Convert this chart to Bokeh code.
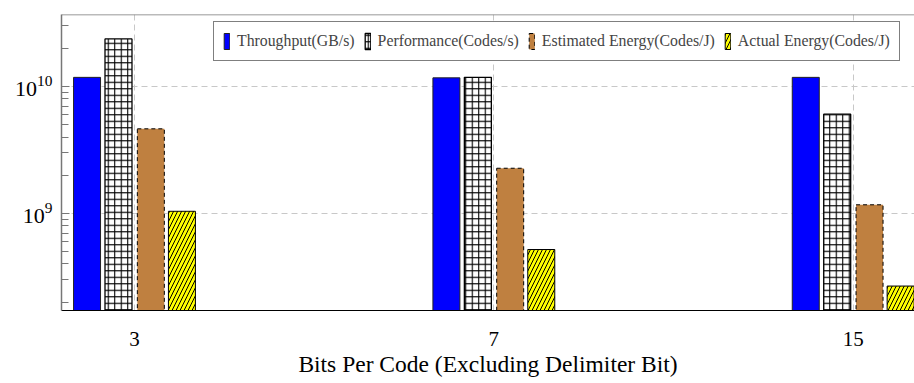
from bokeh.plotting import figure
from bokeh.models import (Range1d, FixedTicker, ColumnDataSource, Legend, LegendItem, Span)
from bokeh.transform import dodge
from bokeh.embed import file_html
from bokeh.resources import INLINE

# ---- data ----
categories = ["3", "7", "15"]
throughput = [1.18e10, 1.17e10, 1.18e10]
performance = [2.37e10, 1.18e10, 6.05e9]
est_energy = [4.64e9, 2.27e9, 1.17e9]
act_energy = [1.04e9, 5.2e8, 2.68e8]
series_names = ["Throughput(GB/s)", "Performance(Codes/s)",
                "Estimated Energy(Codes/J)", "Actual Energy(Codes/J)"]
y_major_ticks = [1e9, 1e10]
y_minor_ticks = [2e8, 3e8, 4e8, 5e8, 6e8, 7e8, 8e8, 9e8,
                 2e9, 3e9, 4e9, 5e9, 6e9, 7e9, 8e9, 9e9,
                 2e10, 3e10]
x_label = "Bits Per Code (Excluding Delimiter Bit)"

Y_MIN, Y_MAX = 1.72e8, 3.69e10
SERIF = "Liberation Serif"

xs = list(range(len(categories)))
src = ColumnDataSource(dict(x=xs, thr=throughput, perf=performance,
                            est=est_energy, act=act_energy))

p = figure(width=914, height=383,
           x_range=Range1d(-0.2031, 2.1706),
           y_range=Range1d(Y_MIN, Y_MAX),
           y_axis_type="log",
           output_backend="svg", toolbar_location=None,
           min_border_left=61, min_border_right=0,
           min_border_top=14, min_border_bottom=73)
p.outline_line_color = None

W = 0.0751
r1 = p.vbar(x=dodge("x", -0.132, range=p.x_range), top="thr", bottom=1e7, width=W,
            source=src, fill_color="#0000ff", line_color="#222222", line_width=1)
r2 = p.vbar(x=dodge("x", -0.0445, range=p.x_range), top="perf", bottom=1e7, width=W,
            source=src, fill_color="white", hatch_pattern="cross", hatch_color="black",
            hatch_scale=6.5, hatch_weight=1.1, line_color="black", line_width=1.3)
r3 = p.vbar(x=dodge("x", 0.0455, range=p.x_range), top="est", bottom=1e7, width=W,
            source=src, fill_color="#bf8040", line_color="black", line_dash="4 3",
            line_width=1)
r4 = p.vbar(x=dodge("x", 0.132, range=p.x_range), top="act", bottom=1e7, width=W,
            source=src, fill_color="#ffff00", hatch_pattern="right_diagonal_line",
            hatch_color="black", hatch_scale=8, hatch_weight=1.0,
            line_color="black", line_width=1)

# top frame line
p.add_layout(Span(location=Y_MAX, dimension="width", line_color="#777777", line_width=1.5))

# axes
yt = FixedTicker(ticks=y_major_ticks, minor_ticks=y_minor_ticks)
p.yaxis.ticker = yt
p.ygrid.ticker = yt
p.yaxis.major_tick_in = 8
p.yaxis.major_tick_out = 0
p.yaxis.minor_tick_in = 7
p.yaxis.minor_tick_out = 0
p.yaxis.axis_line_color = "#777777"
p.yaxis.axis_line_width = 1.5
p.yaxis.major_tick_line_color = "#777777"
p.yaxis.minor_tick_line_color = "#777777"
p.yaxis.major_label_text_font = SERIF
p.yaxis.major_label_text_font_size = "22px"
p.yaxis.major_label_text_color = "black"
p.yaxis.major_label_standoff = 9

xt = FixedTicker(ticks=xs)
p.xaxis.ticker = xt
p.xgrid.ticker = xt
p.xaxis.major_label_overrides = {i: c for i, c in zip(xs, categories)}
p.xaxis.major_tick_in = 0
p.xaxis.major_tick_out = 0
p.xaxis.minor_tick_line_color = None
p.xaxis.axis_line_color = "black"
p.xaxis.axis_line_width = 1.2
p.xaxis.major_label_text_font = SERIF
p.xaxis.major_label_text_font_size = "21px"
p.xaxis.major_label_text_color = "black"
p.xaxis.major_label_standoff = 21
p.xaxis.axis_label = x_label
p.xaxis.axis_label_text_font = SERIF
p.xaxis.axis_label_text_font_size = "23.5px"
p.xaxis.axis_label_text_font_style = "normal"
p.xaxis.axis_label_text_color = "black"
p.xaxis.axis_label_standoff = 2

for g in (p.xgrid, p.ygrid):
    g.grid_line_color = "#c8c8c8"
    g.grid_line_dash = "6 4"
    g.grid_line_width = 1

legend = Legend(items=[LegendItem(label=n, renderers=[r]) for n, r in
                       zip(series_names, [r1, r2, r3, r4])],
                orientation="horizontal", location=(152, 249),
                glyph_width=7, glyph_height=20, label_height=20,
                label_text_font=SERIF, label_text_font_size="15.8px",
                label_standoff=7, spacing=9, padding=9,
                border_line_color="black", border_line_width=1,
                background_fill_alpha=1, margin=0)
p.add_layout(legend)

open("out.html", "w").write(file_html(p, INLINE))
